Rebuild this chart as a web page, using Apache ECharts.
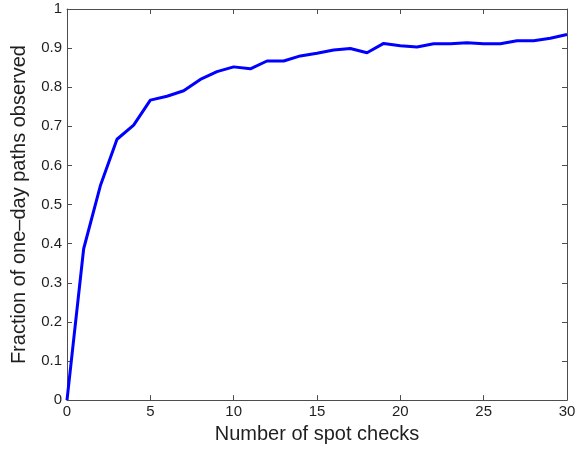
<!DOCTYPE html>
<html>
<head>
<meta charset="utf-8">
<script src="https://cdn.jsdelivr.net/npm/echarts@6/dist/echarts.min.js"></script>
<style>html,body{margin:0;padding:0;background:#fff}#c{width:584px;height:449px}</style>
</head>
<body>
<div id="c"></div>
<script>
const spotChecks = [0,1,2,3,4,5,6,7,8,9,10,11,12,13,14,15,16,17,18,19,20,21,22,23,24,25,26,27,28,29,30];
const fractionObserved = [0,0.387,0.548,0.667,0.703,0.767,0.777,0.791,0.820,0.840,0.852,0.847,0.867,0.867,0.880,0.887,0.895,0.899,0.888,0.912,0.906,0.903,0.911,0.911,0.914,0.911,0.911,0.919,0.919,0.925,0.935];
const xTitle = 'Number of spot checks';
const yTitle = 'Fraction of one\u2013day paths observed';

const font = 'Liberation Sans, Arial, Helvetica, sans-serif';
const axisColor = '#4d4d4d';
const textColor = '#1f1f1f';
const chart = echarts.init(document.getElementById('c'), null, {renderer:'canvas'});
const common = {
  axisLine:{show:true,onZero:false,lineStyle:{color:axisColor,width:1}},
  axisTick:{show:true,inside:true,length:5,lineStyle:{color:axisColor}},
  splitLine:{show:false}
};
chart.setOption({
  animation:false,
  backgroundColor:'#fff',
  grid:{left:67,right:17,top:9,bottom:45,containLabel:false},
  xAxis:[
    Object.assign({type:'value',min:0,max:30,interval:5,position:'bottom',
      name:xTitle,nameLocation:'middle',nameGap:22,
      nameTextStyle:{fontFamily:font,fontSize:20,color:textColor},
      axisLabel:{fontFamily:font,fontSize:15,color:textColor,margin:4}},common),
    Object.assign({type:'value',min:0,max:30,interval:5,position:'top',
      axisLabel:{show:false}},common)
  ],
  yAxis:[
    Object.assign({type:'value',min:0,max:1,interval:0.1,position:'left',
      name:yTitle,nameLocation:'middle',nameGap:38,
      nameTextStyle:{fontFamily:font,fontSize:20,color:textColor},
      axisLabel:{fontFamily:font,fontSize:15,color:textColor,margin:5}},common),
    Object.assign({type:'value',min:0,max:1,interval:0.1,position:'right',
      axisLabel:{show:false}},common)
  ],
  series:[{
    type:'line',
    data:spotChecks.map((x,i)=>[x,fractionObserved[i]]),
    showSymbol:false,
    lineStyle:{color:'#0000ff',width:3},
    clip:false
  }]
});
</script>
</body>
</html>
